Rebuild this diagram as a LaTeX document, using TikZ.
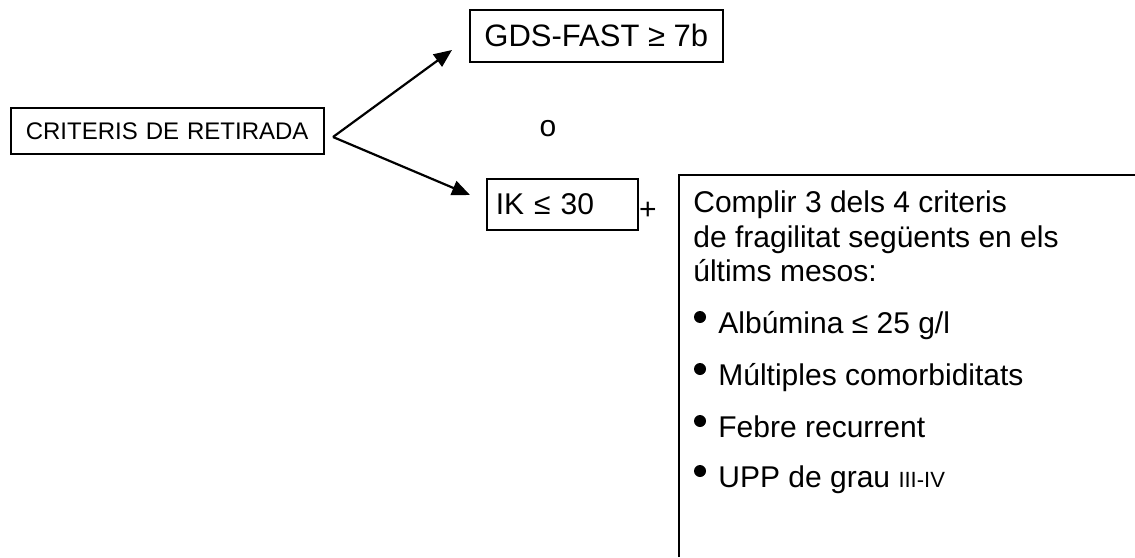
\documentclass[tikz,border=0pt]{standalone}
\usepackage{fontspec}
\setmainfont{Liberation Sans}
\usetikzlibrary{arrows.meta}

\tikzset{
  critbox/.style={draw, line width=0.8pt, inner sep=0pt},
  txt/.style={inner sep=0pt, anchor=base west, font=\fontsize{15}{17}\selectfont},
  dot/.style={circle, fill, inner sep=0pt, minimum size=6pt},
  fork arrow/.style={line width=1.1pt, -{Triangle[length=9pt,width=7.5pt]}}
}

\begin{document}
\begin{tikzpicture}[x=0.5pt,y=-0.5pt]
       \useasboundingbox (0,0) rectangle (1135,557);
       % boxes
       \node[critbox, anchor=north west, minimum width=156.5pt, minimum height=23pt,
             text width=141.5pt, inner xsep=7.5pt, align=left, font=\fontsize{12}{14}\selectfont]
             (retirada) at (10,107) {CRITERIS DE RETIRADA};
       \node[critbox, anchor=north west, minimum width=126.5pt, minimum height=26pt,
             font=\fontsize{15.5}{18}\selectfont] (gds) at (469,9) {GDS-FAST ≥ 7b};
       \node[critbox, anchor=north west, minimum width=71pt, minimum height=25.5pt,
             text width=66.5pt, inner xsep=4.5pt, align=left, font=\fontsize{15}{17}\selectfont]
             (ik) at (486,178) {IK ≤ 30};
       \node[font=\fontsize{15}{17}\selectfont, inner sep=0pt] (o) at (548,129) {o};
       \node[font=\fontsize{15}{17}\selectfont, inner sep=0pt] (plus) at (648,211) {+};
       % arrows
       \coordinate (fork) at (333,137);
       \coordinate (gdstip) at (452,50);
       \coordinate (iktip) at (470,195);
       \draw[fork arrow] (fork) -- (gdstip);
       \draw[fork arrow] (fork) -- (iktip);
       % criteria box, open to the right and below
       \draw[line width=0.8pt] (679,557) -- (679,175) -- (1135,175);
       \node[txt] (l1) at (693,212) {Complir 3 dels 4 criteris};
       \node[txt] (l2) at (693,247) {de fragilitat següents en els};
       \node[txt] (l3) at (693,281) {últims mesos:};
       \foreach \n/\yy/\item in {1/333/{Albúmina ≤ 25 g/l},
                                 2/385/{Múltiples comorbiditats},
                                 3/437/{Febre recurrent},
                                 4/487/{UPP de grau {\fontsize{11}{13}\selectfont III-IV}}} {
         \node[dot] (b\n) at (700,\yy-16) {};
         \node[txt] (c\n) at (718,\yy) {\item};
       }
      \end{tikzpicture}
\end{document}
